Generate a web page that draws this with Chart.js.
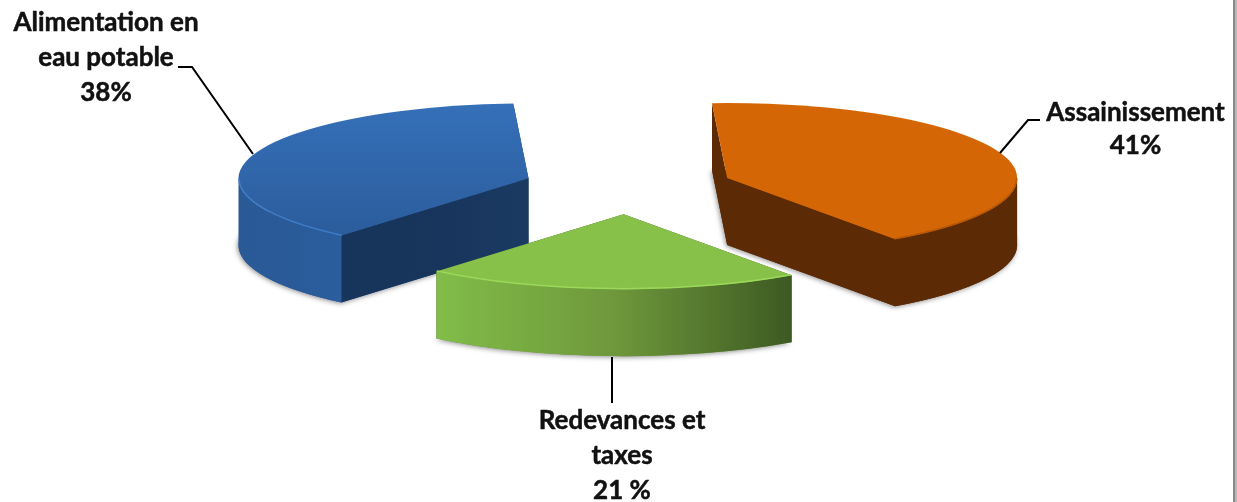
<!DOCTYPE html>
<html lang="fr">
<head>
<meta charset="utf-8">
<title>Répartition</title>
<style>
  html, body { margin: 0; padding: 0; background: #fff; }
  #wrap { position: relative; width: 1237px; height: 502px; overflow: hidden; }
  #pie { display: block; }
  .edge { position: absolute; top: 0; bottom: 0; }
  #edgeDark { left: 1233px; width: 2px; background: #8a8a8a; }
  #edgeLight { left: 1235px; width: 2px; background: #b9b9b9; }
</style>
<script src="https://cdn.jsdelivr.net/npm/chart.js@4"></script>
</head>
<body>
<div id="wrap">
  <canvas id="pie" width="1237" height="502"></canvas>
  <div class="edge" id="edgeDark"></div>
  <div class="edge" id="edgeLight"></div>
</div>
<script>
// Données
const categories = ['Assainissement', 'Redevances et taxes', 'Alimentation en eau potable'];
const values = [41, 21, 38];
const labelLines = [
  ['Assainissement', '41%'],
  ['Redevances et', 'taxes', '21 %'],
  ['Alimentation en', 'eau potable', '38%']
];

// Couleurs de chaque part
const topColors = ['#d56605', '#87c14a', '#3570b8'];
const topShade = ['#d56605', '#87c14a', '#2a5a99'];
const cutColors = [['#5c2b05', '#5c2b05'], ['#3e5d24', '#3e5d24'], ['#17345a', '#1d3e67']];
const wallColors = [
  ['#5c2b05', '#5c2b05', '#5c2b05'],
  ['#81bd48', '#6f983c', '#3c5a22'],
  ['#2a5a96', '#2a5a98', '#2b5e9f']
];
const rimColors = ['#b85705', '#9bd95a', '#3f7cc6'];

// Mise en page des étiquettes et de leurs traits de rappel
const labelPos = [
  { x: 1135.5, y: 113, step: 33 },
  { x: 622, y: 421, step: 35 },
  { x: 106, y: 23, step: 35 }
];
const leaders = [
  [[1000, 153], [1028, 120], [1040, 120]],
  [[612, 357], [612, 403]],
  [[253, 154], [192, 67], [178, 67]]
];

const SQUASH = 75 / 290;  // aplatissement du disque
const DEPTH = 67;         // épaisseur des parts

function sectorPath(ctx, cx, cy, r, a, b) {
  ctx.beginPath();
  ctx.moveTo(cx, cy);
  ctx.ellipse(cx, cy, r, r * SQUASH, 0, a, b);
  ctx.closePath();
}

function radialWall(ctx, cx, cy, r, angle) {
  const px = cx + Math.cos(angle) * r;
  const py = cy + Math.sin(angle) * r * SQUASH;
  ctx.beginPath();
  ctx.moveTo(cx, cy);
  ctx.lineTo(px, py);
  ctx.lineTo(px, py + DEPTH);
  ctx.lineTo(cx, cy + DEPTH);
  ctx.closePath();
  ctx.fill();
}

// Parties de l'arc tournées vers l'avant (demi-ellipse basse)
function frontRanges(a, b) {
  const out = [];
  for (let n = -1; n <= 1; n++) {
    const lo = Math.max(a, n * 2 * Math.PI);
    const hi = Math.min(b, n * 2 * Math.PI + Math.PI);
    if (hi > lo) out.push([lo, hi]);
  }
  return out;
}

function drawSlice(ctx, s) {
  const { cx, cy, r, a, b, i } = s;

  // ombre portée sous la part
  ctx.save();
  ctx.shadowColor = 'rgba(0, 0, 0, 0.45)';
  ctx.shadowBlur = 5;
  ctx.shadowOffsetX = -1;
  ctx.shadowOffsetY = 1;
  ctx.fillStyle = wallColors[i][1];
  sectorPath(ctx, cx, cy + DEPTH, r, a, b);
  ctx.fill();
  ctx.restore();

  // faces coupées
  const cut = ctx.createLinearGradient(cx - r, 0, cx + r, 0);
  cut.addColorStop(0.3, cutColors[i][0]);
  cut.addColorStop(0.6, cutColors[i][1]);
  ctx.fillStyle = cut;
  radialWall(ctx, cx, cy, r, a);
  radialWall(ctx, cx, cy, r, b);

  // paroi extérieure
  const ranges = frontRanges(a, b);
  ranges.forEach(([lo, hi]) => {
    const x0 = cx + Math.cos(hi) * r;
    const x1 = cx + Math.cos(lo) * r;
    const wall = ctx.createLinearGradient(x0, 0, x1, 0);
    wall.addColorStop(0, wallColors[i][0]);
    wall.addColorStop(0.5, wallColors[i][1]);
    wall.addColorStop(1, wallColors[i][2]);
    ctx.fillStyle = wall;
    ctx.beginPath();
    ctx.ellipse(cx, cy, r, r * SQUASH, 0, lo, hi);
    ctx.ellipse(cx, cy + DEPTH, r, r * SQUASH, 0, hi, lo, true);
    ctx.closePath();
    ctx.fill();
  });

  // dessus de la part
  const top = ctx.createLinearGradient(0, cy - r * SQUASH, 0, cy + r * SQUASH);
  top.addColorStop(0, topColors[i]);
  top.addColorStop(1, topShade[i]);
  ctx.fillStyle = top;
  sectorPath(ctx, cx, cy, r, a, b);
  ctx.fill();

  // liseré sur le bord avant
  ctx.strokeStyle = rimColors[i];
  ctx.lineWidth = 1.5;
  ranges.forEach(([lo, hi]) => {
    ctx.beginPath();
    ctx.ellipse(cx, cy, r - 0.5, r * SQUASH - 0.5, 0, lo, hi);
    ctx.stroke();
  });
}

const slicedPie = {
  id: 'slicedPie',
  beforeDatasetsDraw(chart) {
    const ctx = chart.ctx;
    const slices = chart.getDatasetMeta(0).data.map((arc, i) => {
      const p = arc.getProps(['x', 'y', 'startAngle', 'endAngle', 'outerRadius'], true);
      const mid = (p.startAngle + p.endAngle) / 2;
      const offset = arc.options.offset;
      return {
        i,
        a: p.startAngle,
        b: p.endAngle,
        r: p.outerRadius,
        cx: p.x + Math.cos(mid) * offset,
        cy: p.y + Math.sin(mid) * offset * SQUASH
      };
    });
    // du fond vers l'avant
    slices.sort((s, t) => s.cy - t.cy).forEach(s => drawSlice(ctx, s));
    return false;
  },
  // les étiquettes passent par afterDraw : le tracé par défaut des arcs est annulé plus haut
  afterDraw(chart) {
    const ctx = chart.ctx;
    ctx.save();
    ctx.strokeStyle = '#000';
    ctx.lineWidth = 2;
    leaders.forEach(points => {
      ctx.beginPath();
      points.forEach(([x, y], k) => (k ? ctx.lineTo(x, y) : ctx.moveTo(x, y)));
      ctx.stroke();
    });
    ctx.fillStyle = '#111';
    ctx.strokeStyle = '#111';
    ctx.lineWidth = 0.5;
    ctx.font = 'bold 26px Lato, "Open Sans", sans-serif';
    ctx.textAlign = 'center';
    ctx.textBaseline = 'middle';
    labelLines.forEach((lines, i) => {
      const pos = labelPos[i];
      lines.forEach((line, k) => {
        ctx.fillText(line, pos.x, pos.y + k * pos.step);
        ctx.strokeText(line, pos.x, pos.y + k * pos.step);
      });
    });
    ctx.restore();
  }
};

new Chart(document.getElementById('pie'), {
  type: 'pie',
  data: {
    labels: categories,
    datasets: [{
      data: values,
      backgroundColor: topColors,
      borderWidth: 0,
      offset: 105
    }]
  },
  options: {
    responsive: false,
    animation: false,
    rotation: -3,
    radius: 290,
    layout: { padding: { left: 19, bottom: 128 } },
    plugins: { legend: { display: false }, tooltip: { enabled: false } }
  },
  plugins: [slicedPie]
});
</script>
</body>
</html>
